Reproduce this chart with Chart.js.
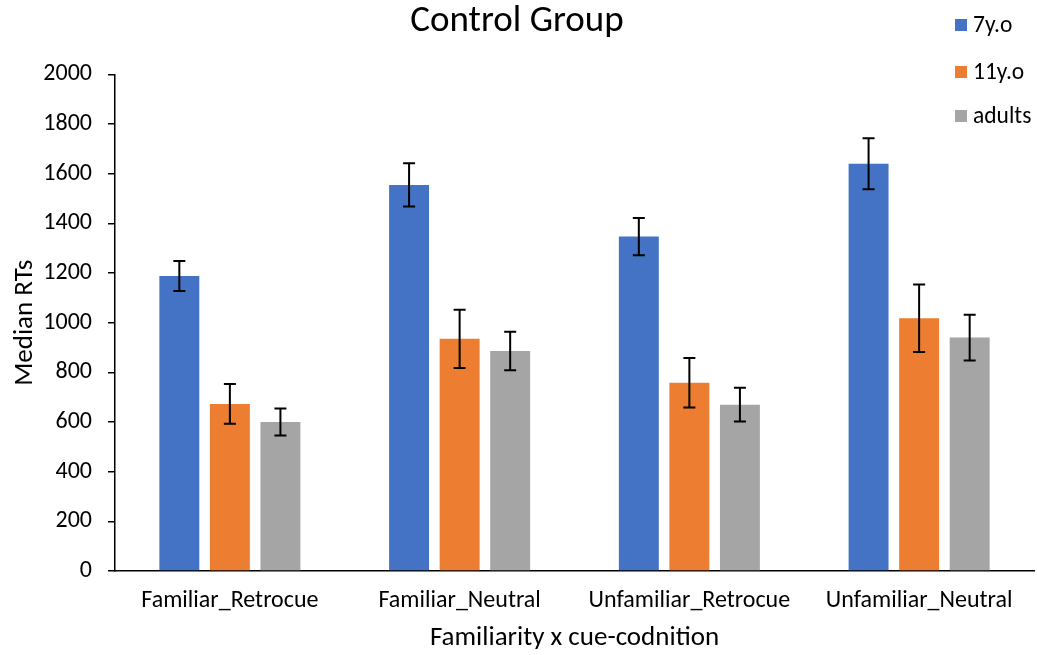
<!DOCTYPE html>
<html>
<head>
<meta charset="utf-8">
<script src="https://cdn.jsdelivr.net/npm/chart.js@4"></script>
<style>
  html, body { margin: 0; padding: 0; background: #fff; }
  #wrap { width: 1037px; height: 655px; position: relative; }
</style>
</head>
<body>
<div id="wrap"><canvas id="chart"></canvas></div>
<script>
const categories = ['Familiar_Retrocue', 'Familiar_Neutral', 'Unfamiliar_Retrocue', 'Unfamiliar_Neutral'];
const seriesNames = ['7y.o', '11y.o', 'adults'];
const values7 = [1188, 1555, 1347, 1640];
const values11 = [673, 935, 758, 1018];
const valuesAdults = [600, 886, 670, 940];
const err7 = [60, 87, 75, 103];
const err11 = [80, 117, 100, 136];
const errAdults = [54, 78, 68, 92];

const FONT = 'Carlito, "Open Sans", sans-serif';
const COLORS = ['#4472C4', '#ED7D31', '#A5A5A5'];

// error bars drawn from each dataset's errors array through the y scale
const errorBars = {
    id: 'errorBars',
    afterDatasetsDraw(chart) {
        const ctx = chart.ctx;
        const y = chart.scales.y;
        ctx.save();
        ctx.strokeStyle = '#000';
        ctx.lineWidth = 2;
        chart.data.datasets.forEach((ds, i) => {
            const meta = chart.getDatasetMeta(i);
            meta.data.forEach((bar, j) => {
                const v = ds.data[j], e = ds.errors[j];
                const top = y.getPixelForValue(v + e);
                const bot = y.getPixelForValue(v - e);
                ctx.beginPath();
                ctx.moveTo(bar.x, top); ctx.lineTo(bar.x, bot);
                ctx.moveTo(bar.x - 6, top); ctx.lineTo(bar.x + 6, top);
                ctx.moveTo(bar.x - 6, bot); ctx.lineTo(bar.x + 6, bot);
                ctx.stroke();
            });
        });
        ctx.restore();
    }
};

// legend in the top right corner, stacked vertically
const sideLegend = {
    id: 'sideLegend',
    afterDraw(chart) {
        const ctx = chart.ctx;
        const rows = [25, 72, 116];
        ctx.save();
        ctx.font = '23.5px ' + FONT;
        ctx.textBaseline = 'middle';
        chart.data.datasets.forEach((ds, i) => {
            ctx.fillStyle = ds.backgroundColor;
            ctx.fillRect(955, rows[i] - 6, 12, 12);
            ctx.fillStyle = '#000';
            ctx.fillText(ds.label, 973, rows[i] + 1);
        });
        ctx.restore();
    }
};

new Chart(document.getElementById('chart'), {
    type: 'bar',
    data: {
        labels: categories,
        datasets: [
            { label: seriesNames[0], data: values7, errors: err7, backgroundColor: COLORS[0] },
            { label: seriesNames[1], data: values11, errors: err11, backgroundColor: COLORS[1] },
            { label: seriesNames[2], data: valuesAdults, errors: errAdults, backgroundColor: COLORS[2] }
        ]
    },
    options: {
        responsive: true,
        maintainAspectRatio: false,
        animation: false,
        categoryPercentage: 0.66,
        barPercentage: 0.79,
        layout: { padding: { left: 0, right: 3, top: 0, bottom: 0 } },
        plugins: {
            legend: { display: false },
            tooltip: { enabled: false },
            title: {
                display: true,
                text: 'Control Group',
                color: '#000',
                font: { family: FONT, size: 37, weight: 'normal' },
                padding: { top: 0, bottom: 30 }
            }
        },
        scales: {
            x: {
                grid: { display: false, drawTicks: false },
                border: { display: true, color: '#000', width: 1.5 },
                ticks: { color: '#000', padding: 16, font: { family: FONT, size: 24 } },
                title: {
                    display: true, text: 'Familiarity x cue-codnition', color: '#000',
                    font: { family: FONT, size: 27 }, padding: { top: 0, bottom: 1 }
                },
                afterFit(scale) { scale.height = 84; }
            },
            y: {
                min: 0, max: 2000,
                grid: { drawOnChartArea: false, drawTicks: true, tickLength: 7, color: '#000', lineWidth: 1.5 },
                border: { display: true, color: '#000', width: 1.5 },
                ticks: {
                    stepSize: 200, color: '#000', padding: 16,
                    font: { family: FONT, size: 24 },
                    callback: v => String(v)
                },
                title: {
                    display: true, text: 'Median RTs', color: '#000',
                    font: { family: FONT, size: 27 }, padding: { top: 9, bottom: 0 }
                },
                afterFit(scale) { scale.width = 115; }
            }
        }
    },
    plugins: [errorBars, sideLegend]
});
</script>
</body>
</html>
